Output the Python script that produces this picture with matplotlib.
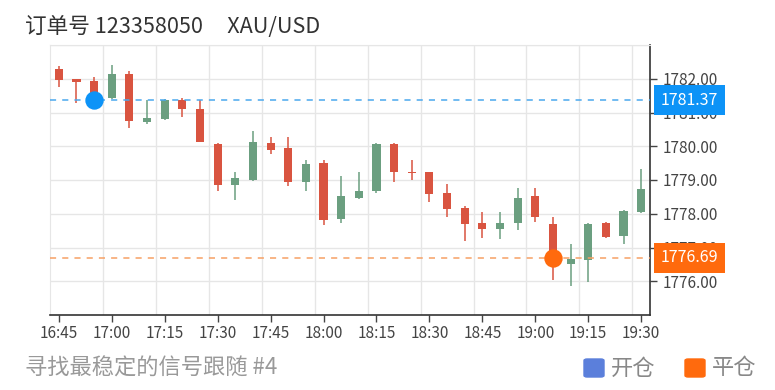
import numpy as np
import matplotlib
matplotlib.use("Agg")
from matplotlib import pyplot as plt
from matplotlib.patches import FancyBboxPatch
from matplotlib import transforms

plt.rcParams['font.family'] = ['Noto Sans CJK SC', 'DejaVu Sans']

# 5-minute candles, 16:45 .. 19:30
times = ["16:45", "16:50", "16:55", "17:00", "17:05", "17:10", "17:15", "17:20", "17:25",
         "17:30", "17:35", "17:40", "17:45", "17:50", "17:55", "18:00", "18:05", "18:10",
         "18:15", "18:20", "18:25", "18:30", "18:35", "18:40", "18:45", "18:50", "18:55",
         "19:00", "19:05", "19:10", "19:15", "19:20", "19:25", "19:30"]
opens = [1782.29, 1781.99, 1781.93, 1781.42, 1782.15, 1780.72, 1780.80, 1781.36, 1781.11,
         1780.06, 1778.85, 1779.00, 1780.11, 1779.94, 1778.93, 1779.50, 1777.83, 1778.48,
         1778.66, 1780.06, 1779.24, 1779.23, 1778.61, 1778.16, 1777.72, 1777.54, 1777.72,
         1778.53, 1777.69, 1776.50, 1776.62, 1777.72, 1777.34, 1778.06]
highs = [1782.39, 1782.00, 1782.05, 1782.41, 1782.22, 1781.38, 1781.40, 1781.44, 1781.38,
         1780.10, 1779.25, 1780.46, 1780.27, 1780.26, 1779.58, 1779.60, 1779.12, 1779.24,
         1780.11, 1780.09, 1779.60, 1779.25, 1778.88, 1778.23, 1778.04, 1778.06, 1778.75,
         1778.75, 1777.91, 1777.10, 1777.72, 1777.76, 1778.10, 1779.32]
lows = [1781.77, 1781.28, 1781.40, 1781.40, 1780.55, 1780.66, 1780.78, 1780.86, 1780.12,
        1778.68, 1778.41, 1778.98, 1779.76, 1778.82, 1778.68, 1777.66, 1777.74, 1778.45,
        1778.62, 1778.95, 1779.00, 1778.36, 1777.89, 1777.19, 1777.27, 1777.24, 1777.52,
        1777.76, 1776.03, 1775.85, 1775.98, 1777.28, 1777.10, 1778.01]
closes = [1781.95, 1781.91, 1781.55, 1782.14, 1780.75, 1780.85, 1781.38, 1781.10, 1780.14,
          1778.85, 1779.05, 1780.12, 1779.89, 1778.95, 1779.48, 1777.81, 1778.54, 1778.68,
          1780.06, 1779.25, 1779.22, 1778.59, 1778.14, 1777.69, 1777.55, 1777.74, 1778.46,
          1777.91, 1776.75, 1776.67, 1777.70, 1777.30, 1778.09, 1778.72]

open_price = 1781.37
open_idx = 2
close_price = 1776.69
close_idx = 28
price_ticks = [1776, 1777, 1778, 1779, 1780, 1781, 1782]

up_color = '#6b9f80'
down_color = '#d95440'
blue = '#0d93f7'
orange = '#ff6a0d'

fig = plt.figure(figsize=(7.75, 3.9), dpi=100)
ax = fig.add_axes([50 / 775, 75 / 390, 600 / 775, 270 / 390])

x = np.arange(len(times))
o = np.array(opens)
c = np.array(closes)
colors = [up_color if cc >= oo else down_color for oo, cc in zip(o, c)]

# grid
for v in price_ticks + [1783]:
    ax.axhline(v, color='#e6e6e6', lw=1, zorder=0)
for g in np.arange(2.5, len(times), 3):
    ax.axvline(g, color='#e6e6e6', lw=1, zorder=0)

ax.vlines(x, lows, highs, colors=colors, lw=1.1, zorder=2)
ax.bar(x, np.maximum(np.abs(c - o), 0.03), bottom=np.minimum(o, c), width=0.46,
       color=colors, zorder=3)

ax.axhline(open_price, color='#4aa8ee', lw=1.1, ls=(0, (4, 4)), zorder=4)
ax.axhline(close_price, color='#f7a064', lw=1.1, ls=(0, (4, 4)), zorder=4)
ax.scatter([open_idx], [open_price], s=175, color=blue, zorder=5, linewidths=0)
ax.scatter([close_idx], [close_price], s=175, color=orange, zorder=5, linewidths=0)

ax.set_xlim(-0.5, len(times) - 0.5)
ax.set_ylim(1775, 1783)
ax.set_xticks(x[::3])
ax.set_xticklabels(times[::3])
ax.yaxis.tick_right()
ax.set_yticks(price_ticks)
ax.set_yticklabels([f"{v:.2f}" for v in price_ticks])
ax.tick_params(axis='both', labelsize=11, colors='#444444', length=5, width=1)
ax.tick_params(axis='y', pad=4)
ax.tick_params(axis='x', pad=2)

for s in ['left', 'top']:
    ax.spines[s].set_color('#e6e6e6')
for s in ['right', 'bottom']:
    ax.spines[s].set_color('#333333')
    ax.spines[s].set_linewidth(1.2)

# price tags on the right axis
trans = transforms.blended_transform_factory(ax.transAxes, ax.transData)
for val, col in [(open_price, blue), (close_price, orange)]:
    ax.text(1.0 + 11 / 600, val, f"{val:.2f}", transform=trans, ha='left', va='center',
            fontsize=11.5, color='white', zorder=10, clip_on=False,
            bbox=dict(boxstyle='square,pad=0.42', fc=col, ec='none'))

fig.text(25 / 775, 1 - 27 / 390, "订单号 123358050     XAU/USD", fontsize=15.6,
         color='#333333', va='center', ha='left')
fig.text(25 / 775, 1 - 368 / 390, "寻找最稳定的信号跟随 #4", fontsize=16,
         color='#999999', va='center', ha='left')

# legend
for sx, tx, label, col in [(584, 611, "开仓", '#5b7fdb'), (685, 712, "平仓", '#ff6a0d')]:
    fig.patches.append(FancyBboxPatch((sx / 775, 1 - 377 / 390), 20 / 775, 18 / 390,
                                      boxstyle='round,pad=0,rounding_size=0.004',
                                      transform=fig.transFigure, color=col))
    fig.text(tx / 775, 1 - 368 / 390, label, fontsize=16, color='#888888', va='center')

fig.savefig('out.png', dpi=100, facecolor='white')
